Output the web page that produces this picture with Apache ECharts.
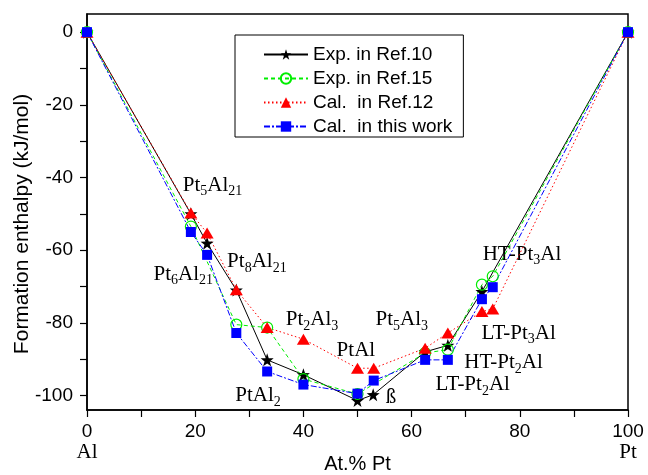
<!DOCTYPE html>
<html>
<head>
<meta charset="utf-8">
<script src="https://cdn.jsdelivr.net/npm/echarts@6/dist/echarts.min.js"></script>
<style>
  html, body { margin: 0; padding: 0; background: #fff; }
  #chart { width: 648px; height: 475px; }
</style>
</head>
<body>
<div id="chart"></div>
<script>
// composition (at.% Pt) and formation enthalpy (kJ/mol) per data set
const xRef10 = [0, 19.2, 22.2, 27.6, 33.3, 40, 50, 52.9, 62.5, 66.7, 73, 100]
const hRef10 = [0, -50, -58.1, -71, -90.2, -94.3, -101.4, -99.8, -88, -86.2, -71.4, 0]

const xRef15 = [0, 19.2, 27.6, 33.3, 40, 50, 62.5, 66.7, 73, 75, 100]
const hRef15 = [0, -53.5, -80.5, -81.3, -95.5, -99.6, -88.3, -87.4, -69.5, -67.2, 0]

const xRef12 = [0, 19.2, 22.2, 27.6, 33.3, 40, 50, 53, 62.5, 66.7, 73, 75, 100]
const hRef12 = [0, -49.8, -55.3, -70.9, -81.3, -84.5, -92.5, -92.5, -87, -82.8, -76.9, -76.2, 0]

const xWork = [0, 19.2, 22.2, 27.6, 33.3, 40, 50, 53, 62.5, 66.7, 73, 75, 100]
const hWork = [0, -55, -61.3, -82.8, -93.4, -97, -99.5, -95.9, -90.2, -90.2, -73.5, -70.2, 0]

const seriesNames = ['Exp. in Ref.10', 'Exp. in Ref.15', 'Cal.  in Ref.12', 'Cal.  in this work']

// phase labels: text parts [main, sub, main, sub...] and where they sit (data coords)
const phaseText = [
  ['Pt', '5', 'Al', '21'], ['Pt', '6', 'Al', '21'], ['Pt', '8', 'Al', '21'],
  ['Pt', '2', 'Al', '3'], ['PtAl'], ['PtAl', '2'], ['ß'], ['Pt', '5', 'Al', '3'],
  ['HT-Pt', '3', 'Al'], ['LT-Pt', '3', 'Al'], ['HT-Pt', '2', 'Al'], ['LT-Pt', '2', 'Al']
]
const phaseX = [23.2, 17.8, 31.4, 41.6, 49.7, 31.6, 56.2, 58.2, 80.4, 79.8, 77.0, 71.3]
const phaseY = [-42.5, -67, -63.5, -79.5, -88, -100.5, -101, -79.5, -61.5, -83.3, -91.3, -97.5]

const xTicks = [0, 10, 20, 30, 40, 50, 60, 70, 80, 90, 100]
const xLabels = [0, 20, 40, 60, 80, 100]
const yTicks = [-100, -90, -80, -70, -60, -50, -40, -30, -20, -10, 0]
const yLabels = [-100, -80, -60, -40, -20, 0]

const pairs = (xs, ys) => xs.map((x, i) => [x, ys[i]])
const star = 'path://M0,-10L2.35,-3.24L9.51,-3.09L3.8,1.24L5.88,8.09L0,4L-5.88,8.09L-3.8,1.24L-9.51,-3.09L-2.35,-3.24Z'
const sans = 'Liberation Sans'
const serif = 'Liberation Serif'

const chart = echarts.init(document.getElementById('chart'))

chart.setOption({
  animation: false,
  backgroundColor: '#fff',
  grid: {
    left: 87, right: 20, top: 14, bottom: 65,
    show: true, borderColor: '#000', borderWidth: 1.5,
    containLabel: false, outerBoundsMode: 'none'
  },
  legend: {
    data: seriesNames,
    orient: 'vertical',
    left: 235, top: 35,
    padding: [10, 11, 1, 28],
    itemWidth: 44, itemHeight: 13, itemGap: 5,
    borderColor: '#000', borderWidth: 1,
    textStyle: { fontFamily: sans, fontSize: 19, color: '#000', lineHeight: 19 }
  },
  xAxis: {
    type: 'value', min: 0, max: 100,
    name: 'At.% Pt', nameLocation: 'middle', nameGap: 44, nameMoveOverlap: false,
    nameTextStyle: { fontFamily: sans, fontSize: 20, color: '#000' },
    axisLine: { onZero: false, lineStyle: { color: '#000', width: 1.5 } },
    axisTick: { customValues: xTicks, length: 7, lineStyle: { color: '#000', width: 1.2 } },
    axisLabel: {
      customValues: xLabels, margin: 11,
      formatter: v => v === 0 ? '{a|0}\n{b|Al}' : v === 100 ? '{a|100}\n{b|Pt}' : '{a|' + v + '}',
      rich: {
        a: { fontFamily: sans, fontSize: 19, color: '#000', lineHeight: 21 },
        b: { fontFamily: serif, fontSize: 21, color: '#000', lineHeight: 21 }
      }
    },
    splitLine: { show: false }
  },
  yAxis: {
    type: 'value', min: -104, max: 5,
    axisLine: { onZero: false, lineStyle: { color: '#000', width: 1.5 } },
    axisTick: { customValues: yTicks, length: 7, lineStyle: { color: '#000', width: 1.2 } },
    axisLabel: { customValues: yLabels, margin: 14, fontFamily: sans, fontSize: 19, color: '#000' },
    splitLine: { show: false }
  },
  graphic: [{
    type: 'text', x: 22, y: 224, rotation: Math.PI / 2,
    style: {
      text: 'Formation enthalpy (kJ/mol)', fontFamily: sans, fontSize: 21,
      fill: '#000', align: 'center', verticalAlign: 'middle'
    }
  }],
  series: [
    {
      name: seriesNames[0], type: 'line', data: pairs(xRef10, hRef10),
      symbol: star, symbolSize: 13,
      lineStyle: { color: '#000', width: 1, type: 'solid' },
      itemStyle: { color: '#000' }
    },
    {
      name: seriesNames[1], type: 'line', data: pairs(xRef15, hRef15),
      symbol: 'circle', symbolSize: 11,
      lineStyle: { color: '#00ee00', width: 1, type: [4, 3] },
      itemStyle: { color: 'rgba(0,0,0,0)', borderColor: '#00ee00', borderWidth: 1.2 }
    },
    {
      name: seriesNames[2], type: 'line', data: pairs(xRef12, hRef12),
      symbol: 'triangle', symbolSize: [13, 11],
      lineStyle: { color: '#ff0000', width: 1, type: [1.5, 2.5] },
      itemStyle: { color: '#ff0000' }
    },
    {
      name: seriesNames[3], type: 'line', data: pairs(xWork, hWork),
      symbol: 'rect', symbolSize: 10,
      lineStyle: { color: '#0000ff', width: 1, type: [6, 2, 2, 2] },
      itemStyle: { color: '#0000ff' }
    },
    {
      name: 'phases', type: 'scatter', silent: true, symbolSize: 0,
      itemStyle: { opacity: 1, color: '#000' },
      data: phaseText.map((t, i) => ({ value: [phaseX[i], phaseY[i]], parts: t })),
      label: {
        show: true, position: 'inside', color: '#000', textBorderWidth: 0, opacity: 1,
        formatter: p => p.data.parts.map((s, k) => (k % 2 ? '{s|' : '{n|') + s + '}').join(''),
        rich: {
          n: { fontFamily: serif, fontSize: 21, color: '#000', textBorderWidth: 0, lineHeight: 24, verticalAlign: 'top' },
          s: { fontFamily: serif, fontSize: 14, color: '#000', textBorderWidth: 0, lineHeight: 11, verticalAlign: 'bottom' }
        }
      }
    }
  ]
})
</script>
</body>
</html>
